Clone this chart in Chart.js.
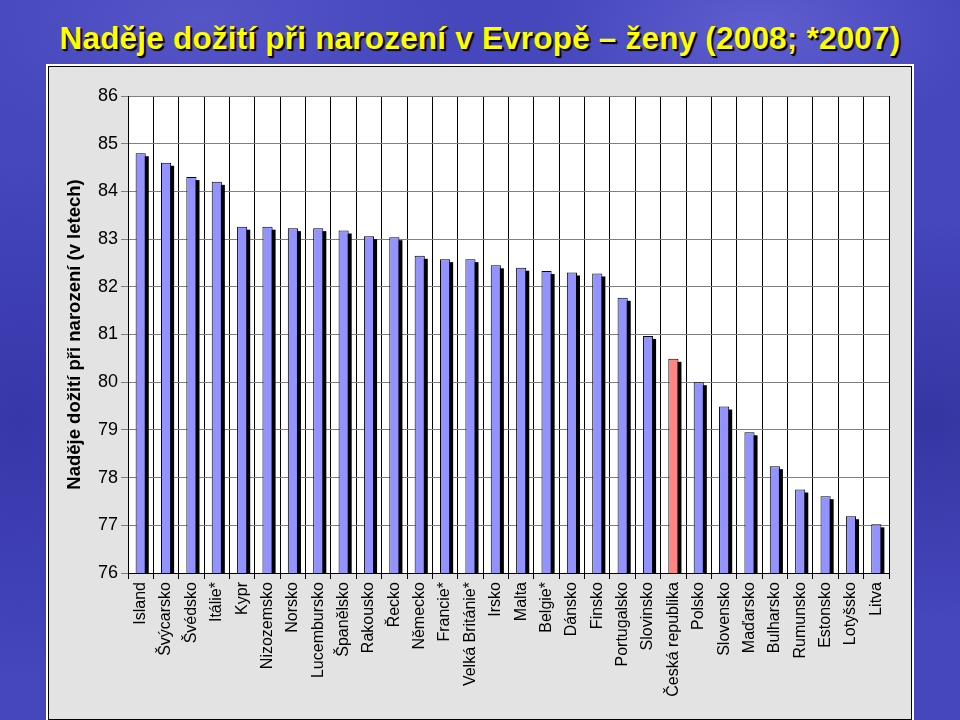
<!DOCTYPE html>
<html lang="cs">
<head>
<meta charset="utf-8">
<script src="https://cdn.jsdelivr.net/npm/chart.js@4.4.0/dist/chart.umd.min.js"></script>
<style>
  html, body { margin: 0; padding: 0; }
  body {
    width: 960px; height: 720px; overflow: hidden; position: relative;
    background:
      radial-gradient(ellipse 220px 120px at 760px 30px, rgba(110,110,220,0.6), transparent),
      radial-gradient(ellipse 300px 200px at 930px 420px, rgba(40,40,140,0.55), transparent),
      radial-gradient(ellipse 200px 260px at 20px 420px, rgba(40,40,150,0.5), transparent),
      radial-gradient(ellipse 260px 140px at 200px 20px, rgba(100,100,210,0.5), transparent),
      #4646bd;
    font-family: "Liberation Sans", Arial, sans-serif;
  }
  h1 {
    position: absolute; left: 0; top: 20px; width: 960px; margin: 0;
    text-align: center; font-size: 31.5px; font-weight: bold; color: #ffff00;
    text-shadow: 2px 2px 1px #000, 1px 1px 0 #000;
    letter-spacing: 0.2px;
  }
  .panel {
    position: absolute; left: 48px; top: 66px; width: 862px; height: 652px;
    background: #e3e3e3; border: 1px solid #000; outline: 2px solid #fff;
  }
  canvas { display: block; }
</style>
</head>
<body>
<h1>Naděje dožití při narození v Evropě – ženy (2008; *2007)</h1>
<div class="panel"><canvas id="chart" width="862" height="652"></canvas></div>
<script>
const COUNTRIES = ["Island","Švýcarsko","Švédsko","Itálie*","Kypr","Nizozemsko","Norsko","Lucembursko",
  "Španělsko","Rakousko","Řecko","Německo","Francie*","Velká Británie*","Irsko","Malta","Belgie*",
  "Dánsko","Finsko","Portugalsko","Slovinsko","Česká republika","Polsko","Slovensko","Maďarsko",
  "Bulharsko","Rumunsko","Estonsko","Lotyšsko","Litva"];
const LIFE_EXP = [84.8,84.6,84.3,84.2,83.26,83.26,83.23,83.23,83.18,83.06,83.04,82.65,82.58,82.58,
  82.45,82.4,82.33,82.3,82.28,81.77,80.97,80.49,80.0,79.49,78.95,78.24,77.75,77.61,77.19,77.02];
const HIGHLIGHT = "Česká republika";
const Y_MIN = 76, Y_MAX = 86;

const plotBg = {
  id: "plotBg",
  beforeDraw(chart) {
    const { ctx, chartArea: a } = chart;
    ctx.save();
    ctx.fillStyle = "#fff";
    ctx.fillRect(a.left, a.top, a.right - a.left, a.bottom - a.top);
    ctx.restore();
  },
};
// stín sloupců (3D efekt jako v Excelu), z pozic sloupců spočtených knihovnou
const barShadow = {
  id: "barShadow",
  beforeDatasetsDraw(chart) {
    const ctx = chart.ctx;
    const bottom = chart.chartArea.bottom;
    ctx.save();
    ctx.fillStyle = "#000";
    for (const bar of chart.getDatasetMeta(0).data) {
      const { x, y, width } = bar.getProps(["x", "y", "width"], true);
      ctx.fillRect(x - width / 2 + 3, y + 3, width, bottom - y - 3);
    }
    ctx.restore();
  },
};

new Chart(document.getElementById("chart"), {
  type: "bar",
  data: {
    labels: COUNTRIES,
    datasets: [{
      data: LIFE_EXP,
      backgroundColor: COUNTRIES.map(c => c === HIGHLIGHT ? "#ff8585" : "#9393ff"),
      borderColor: "#000",
      borderWidth: 1,
      borderSkipped: false,
      barPercentage: 0.4,
      categoryPercentage: 1,
    }],
  },
  options: {
    responsive: false, animation: false,
    layout: { padding: { top: 29, right: 22, left: 15, bottom: 0 } },
    plugins: { legend: { display: false }, tooltip: { enabled: false } },
    scales: {
      x: {
        offset: true,
        grid: { color: "#000", lineWidth: 1, tickLength: 6, offset: true, drawOnChartArea: true },
        border: { color: "#000" },
        ticks: { color: "#000", font: { family: "Liberation Sans", size: 16 }, maxRotation: 90, minRotation: 90, autoSkip: false, padding: 3 },
        afterFit(s) { s.height = 146; },
      },
      y: {
        min: Y_MIN, max: Y_MAX,
        grid: { color: "#808080", lineWidth: 1, tickLength: 7 },
        border: { color: "#000" },
        ticks: { stepSize: 1, color: "#000", font: { family: "Liberation Sans", size: 18 }, padding: 3 },
        title: { display: true, text: "Naděje dožití při narození (v letech)", color: "#000",
                 font: { family: "Liberation Sans", size: 18.5, weight: "bold" }, padding: 0 },
        afterFit(s) { s.width = 64; },
      },
    },
  },
  plugins: [plotBg, barShadow],
});
</script>
</body>
</html>
